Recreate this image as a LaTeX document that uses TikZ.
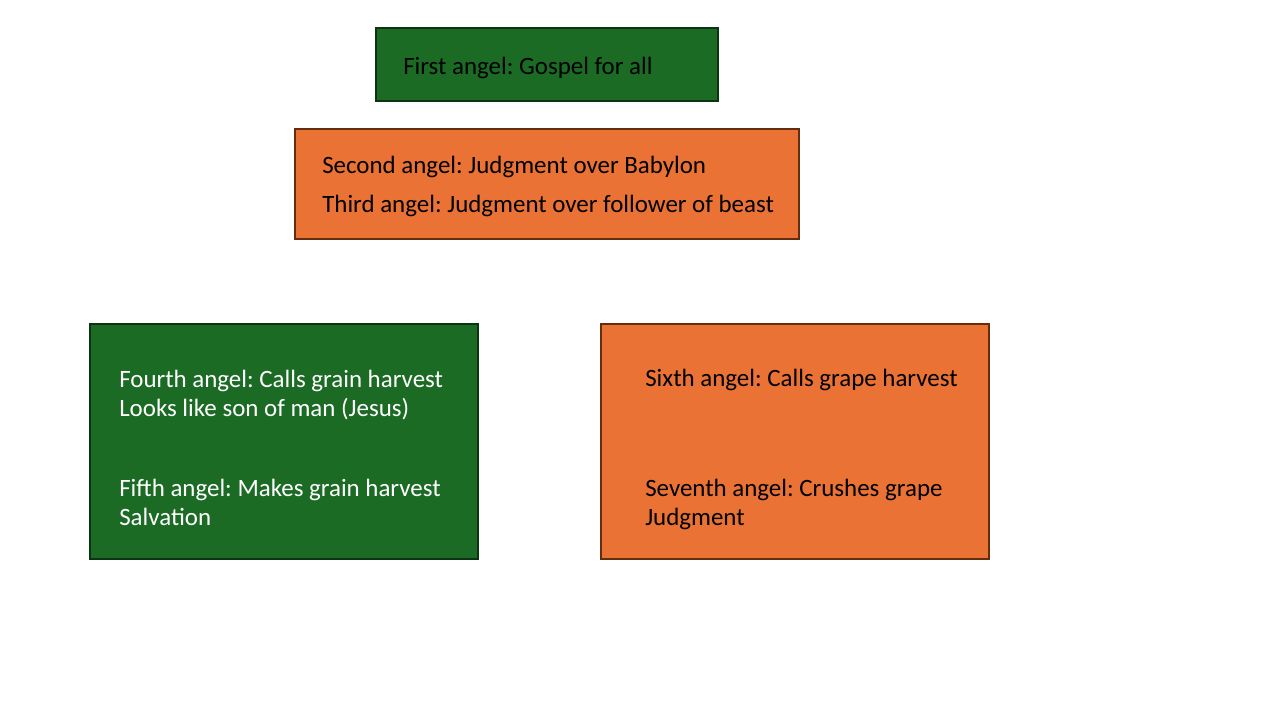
\documentclass[tikz,border=0pt]{standalone}
\usepackage{fontspec}
\setmainfont{Carlito}
\usetikzlibrary{positioning}
\frenchspacing

\definecolor{leafgreen}{RGB}{27,107,37}
\definecolor{leafedge}{RGB}{12,52,18}
\definecolor{grapeorange}{RGB}{234,114,52}
\definecolor{grapeedge}{RGB}{100,45,14}

\tikzset{
  greenbox/.style={fill=leafgreen, draw=leafedge, line width=1.2pt},
  orangebox/.style={fill=grapeorange, draw=grapeedge, line width=1.2pt},
  linetext/.style={anchor=base west, inner sep=0pt, font=\fontsize{18.7}{22}\selectfont},
}

\begin{document}
\begin{tikzpicture}[x=0.75pt,y=-0.75pt]
  \useasboundingbox (0,0) rectangle (1280,720);

  % upper boxes
  \draw [greenbox] (376,28) rectangle (718,101);
  \draw [orangebox] (295,129) rectangle (799,239);

  \node [linetext] (first) at (403,75) {First angel: Gospel for all};
  \node [linetext] (second) at (322,174) {Second angel: Judgment over Babylon};
  \node [linetext] (third) at (322,213) {Third angel: Judgment over follower of beast};

  % lower boxes
  \draw [greenbox] (90,324) rectangle (478,559);
  \draw [orangebox] (601,324) rectangle (989,559);

  \node [linetext, text=white] (fourth) at (119,387) {Fourth angel: Calls grain harvest};
  \node [linetext, text=white] (sonofman) at (119,416) {Looks like son of man (Jesus)};
  \node [linetext, text=white] (fifth) at (119,496) {Fifth angel: Makes grain harvest};
  \node [linetext, text=white] (salvation) at (119,525) {Salvation};

  \node [linetext] (sixth) at (645,386) {Sixth angel: Calls grape harvest};
  \node [linetext] (seventh) at (645,496) {Seventh angel: Crushes grape};
  \node [linetext] (judgment) at (645,525) {Judgment};
\end{tikzpicture}
\end{document}
